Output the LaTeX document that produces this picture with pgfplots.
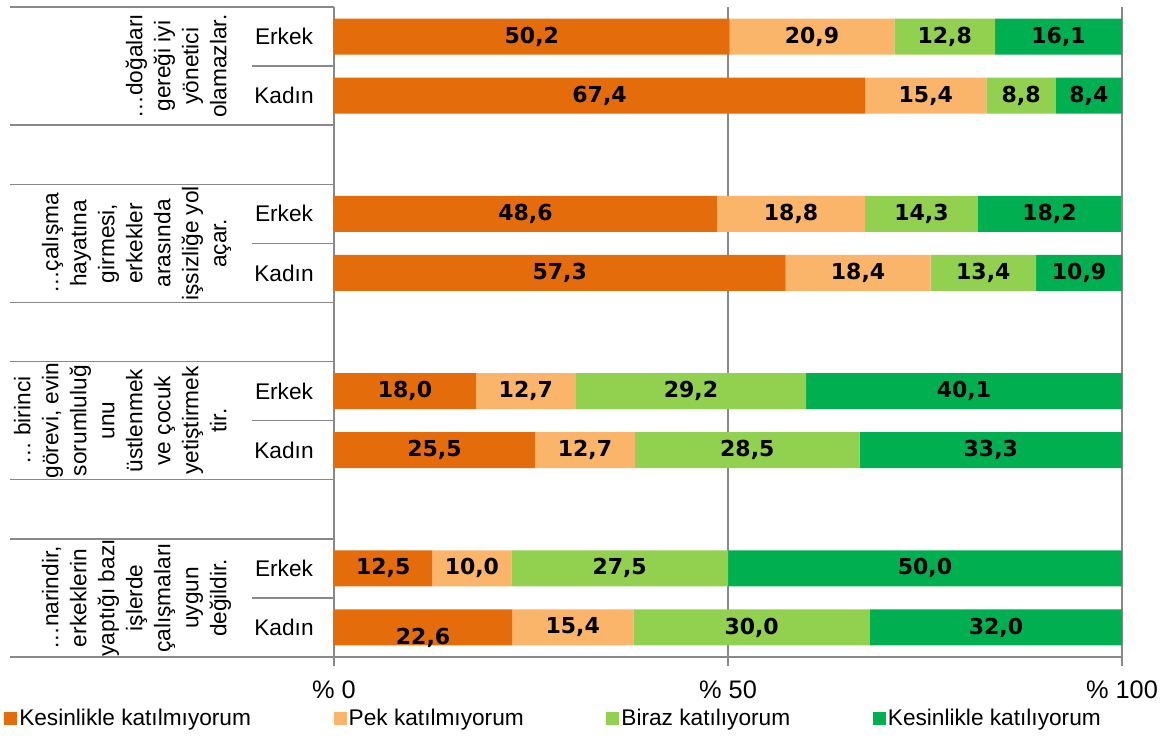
\documentclass[border=0pt]{standalone}
\usepackage{fontspec}
\setmainfont{Liberation Sans}
\newfontfamily\numfont{DejaVu Sans}
\usepackage{pgfplots}
\usepackage{pgfplotstable}
\pgfplotsset{compat=1.18}

\definecolor{c1}{HTML}{E46C0A}
\definecolor{c2}{HTML}{FAB56A}
\definecolor{c3}{HTML}{92D050}
\definecolor{c4}{HTML}{00B050}
\definecolor{axisgray}{HTML}{898989}

% pos: row from top (10) to bottom (0); rows 8, 5, 2 stay empty
% dy: vertical offset of the first label (pt)
\pgfplotstableread{
pos s1   s2   s3   s4   dy
10  50.2 20.9 12.8 16.1 0
9   67.4 15.4 8.8  8.4  0
7   48.6 18.8 14.3 18.2 0
6   57.3 18.4 13.4 10.9 0
4   18.0 12.7 29.2 40.1 0
3   25.5 12.7 28.5 33.3 0
1   12.5 10.0 27.5 50.0 0
0   22.6 15.4 30.0 32.0 -7.5
}\answers

\newcommand{\txt}{\fontsize{17}{21}\selectfont}

\begin{document}
\begin{tikzpicture}
\useasboundingbox (-250.5pt,-58.5pt) rectangle (629.25pt,492.75pt);
\begin{axis}[
  scale only axis,
  width=591pt, height=487.5pt,
  xbar stacked, bar width=27pt,
  xmin=0, xmax=100, ymin=-0.5, ymax=10.5,
  clip=false,
  axis x line*=bottom, axis y line*=left,
  axis line style={axisgray, line width=1.1pt},
  tick align=outside, major tick length=6.75pt,
  xtick={0,50,100},
  xticklabels={\% 0,\% 50,\% 100},
  xticklabel style={font=\fontsize{19}{22}\selectfont, yshift=-7.5pt},
  xtick style={axisgray, line width=1.1pt},
  xmajorgrids,
  grid style={axisgray, line width=1.1pt},
  ytick={0,1,3,4,6,7,9,10},
  yticklabels={Kadın,Erkek,Kadın,Erkek,Kadın,Erkek,Kadın,Erkek},
  ytick style={draw=none},
  yticklabel style={font=\txt, anchor=center, xshift=-30.75pt},
  % labels already sit in the middle of each stacked segment
  seg/.style={fill=#1, draw=none,
    every node near coord/.append style={anchor=center,
      font=\numfont\bfseries\fontsize{16.5}{18}\selectfont}},
  nodes near coords={\pgfmathprintnumber[fixed,fixed zerofill,precision=1,use comma,assume math mode=true]{\pgfplotspointmeta}},
  legend columns=4,
  legend image code/.code={\fill[#1] (0pt,-4.875pt) rectangle (9.75pt,4.875pt);},
  legend style={at={(0,0)}, anchor=west, xshift=-247.5pt, yshift=-45.75pt,
    draw=none, fill=none, inner sep=0pt, font=\txt,
    nodes={inner sep=1.5pt},
    /tikz/every even column/.append style={column sep=60.5pt},
    /tikz/column 2/.append style={column sep=64pt}},
  legend cell align=left,
]
\addplot[seg=c1, point meta=\thisrow{s1},
  visualization depends on={\thisrow{dy}\as\labdy},
  every node near coord/.append style={yshift=\labdy pt}]
  table[x=s1, y=pos]{\answers};
\addplot[seg=c2, point meta=\thisrow{s2}]
  table[x=s2, y=pos]{\answers};
\addplot[seg=c3, point meta=\thisrow{s3}]
  table[x=s3, y=pos]{\answers};
\addplot[seg=c4, point meta=\thisrow{s4}]
  table[x=s4, y=pos]{\answers};
\legend{Kesinlikle katılmıyorum, Pek katılmıyorum, Biraz katılıyorum, Kesinlikle katılıyorum}

% category table on the left
\pgfplotsinvokeforeach{10.5,8.5,7.5,5.5,4.5,2.5,1.5,-0.5}{
  \draw[axisgray, line width=1.1pt] (axis cs:0,#1) -- ++(-243pt,0pt);}
\pgfplotsinvokeforeach{9.5,6.5,3.5,0.5}{
  \draw[axisgray, line width=1.1pt] (axis cs:0,#1) -- ++(-61.5pt,0pt);}

\tikzset{grp/.style={rotate=90, anchor=south, align=center, font=\txt, inner sep=0pt}}
\node[grp] at ([xshift=-74.25pt]axis cs:0,9.5) {…doğaları\\gereği iyi\\yönetici\\olamazlar.\strut};
\node[grp] at ([xshift=-74.25pt]axis cs:0,6.5) {…çalışma\\hayatına\\girmesi,\\erkekler\\arasında\\işsizliğe yol\\açar.\strut};
\node[grp] at ([xshift=-74.25pt]axis cs:0,3.5) {… birinci\\görevi, evin\\sorumluluğ\\unu\\üstlenmek\\ve çocuk\\yetiştirmek\\tir.\strut};
\node[grp] at ([xshift=-74.25pt]axis cs:0,0.5) {…narindir,\\erkeklerin\\yaptığı bazı\\işlerde\\çalışmaları\\uygun\\değildir.\strut};
\end{axis}
\end{tikzpicture}
\end{document}
